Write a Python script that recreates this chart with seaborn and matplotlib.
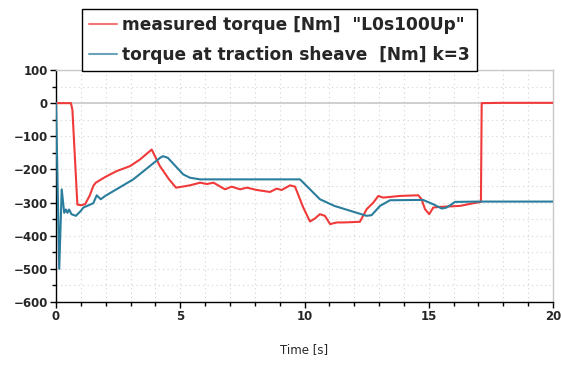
import numpy as np
import pandas as pd
import matplotlib
matplotlib.use("Agg")
import matplotlib.pyplot as plt
import seaborn as sns
from matplotlib.ticker import MultipleLocator

# ---- data ----
t_meas = [0.0, 0.6, 0.66, 0.86, 1.0, 1.17, 1.35, 1.5, 1.6, 2.0, 2.44, 2.98, 3.38, 3.85, 4.18, 4.55, 4.83,
          5.0, 5.39, 5.8, 6.07, 6.34, 6.8, 7.07, 7.41, 7.68, 8.08, 8.61, 8.88, 9.08, 9.42, 9.62,
          9.95, 10.22, 10.42, 10.62, 10.82, 11.03, 11.3, 11.57, 12.23, 12.5, 12.77, 12.97, 13.17,
          13.84, 14.58, 14.71, 14.85, 15.02, 15.18, 15.45, 16.26, 16.79, 17.1, 17.13, 18.0, 20.0]
v_meas = [0, 0, -20, -306, -308, -305, -280, -250, -240, -222, -205, -190, -170, -140, -190, -230, -255,
          -253, -248, -240, -244, -240, -260, -252, -260, -255, -262, -268, -258, -262, -248, -252,
          -315, -357, -348, -335, -340, -365, -360, -360, -358, -320, -300, -280, -285,
          -280, -278, -290, -320, -335, -315, -313, -310, -302, -298, 0, 1, 1]

t_sheave = [0.0, 0.04, 0.13, 0.23, 0.33, 0.4, 0.46, 0.53, 0.62, 0.8, 1.0, 1.1, 1.5, 1.64, 1.8, 1.98,
            3.11, 4.19, 4.3, 4.5, 5.12, 5.39, 5.8, 9.82, 10.22, 10.62, 11.2, 12.5, 12.7, 13.04,
            13.44, 14.77, 15.18, 15.52, 15.72, 16.06, 17.0, 20.0]
v_sheave = [0, -150, -500, -260, -331, -321, -331, -321, -335, -340, -325, -315, -302, -278, -290, -280,
            -230, -165, -160, -165, -215, -225, -230, -230, -260, -290, -310, -340, -338, -310,
            -293, -292, -305, -318, -315, -298, -297, -297]

label_meas = 'measured torque [Nm]  "L0s100Up"'
label_sheave = 'torque at traction sheave  [Nm] k=3'
x_label = "Time [s]"

df = pd.concat([
    pd.DataFrame({"t": t_meas, "v": v_meas, "s": label_meas}),
    pd.DataFrame({"t": t_sheave, "v": v_sheave, "s": label_sheave}),
], ignore_index=True)

sns.set_style("white")
plt.rcParams["font.family"] = ["DejaVu Sans"]

fig = plt.figure(figsize=(5.61, 3.72), dpi=100)
ax = fig.add_axes([56/561, 1-302/372, (553-56)/561, (302-70)/372])

ax.axhline(0, color="#c8c8c8", lw=1.2, zorder=1)
sns.lineplot(data=df, x="t", y="v", hue="s", sort=False, estimator=None,
             palette={label_meas: "#f03a3a", label_sheave: "#2a7d9c"},
             hue_order=[label_meas, label_sheave], lw=1.5, ax=ax, zorder=3)

ax.set_xlim(0, 20)
ax.set_ylim(-600, 100)
ax.xaxis.set_major_locator(MultipleLocator(5))
ax.xaxis.set_minor_locator(MultipleLocator(1))
ax.yaxis.set_major_locator(MultipleLocator(100))
ax.yaxis.set_minor_locator(MultipleLocator(50))
ax.grid(which="both", color="#d4d4d4", linestyle=(0, (1, 3)), lw=0.8)
ax.set_axisbelow(True)

for side in ["top", "right"]:
    ax.spines[side].set_color("#c8c8c8")
    ax.spines[side].set_linewidth(1.0)
for side in ["left", "bottom"]:
    ax.spines[side].set_color("black")
    ax.spines[side].set_linewidth(1.0)

ax.tick_params(which="major", direction="out", length=4, width=1, color="black",
               labelsize=8.5, bottom=True, left=True, pad=2)
ax.tick_params(which="minor", direction="out", length=3, width=1, color="black",
               bottom=True, left=True)
for lab in ax.get_xticklabels() + ax.get_yticklabels():
    lab.set_fontweight("bold")

ax.set_xlabel(x_label, fontsize=8.5, labelpad=14)
ax.set_ylabel("")

h, l = ax.get_legend_handles_labels()
ax.get_legend().remove()
leg = fig.legend(h, l, loc="upper left", bbox_to_anchor=(82/561, 1-9/372),
                 prop={"weight": "bold", "size": 12.25}, frameon=True, fancybox=False,
                 edgecolor="black", framealpha=1, handlelength=1.65, handletextpad=0.3,
                 borderpad=0.42, labelspacing=0.68, borderaxespad=0)
leg.get_frame().set_linewidth(1.0)
for lh in leg.get_lines():
    lh.set_linewidth(1.5)
    lh.set_alpha(0.7)

fig.savefig("out.png", dpi=100)
